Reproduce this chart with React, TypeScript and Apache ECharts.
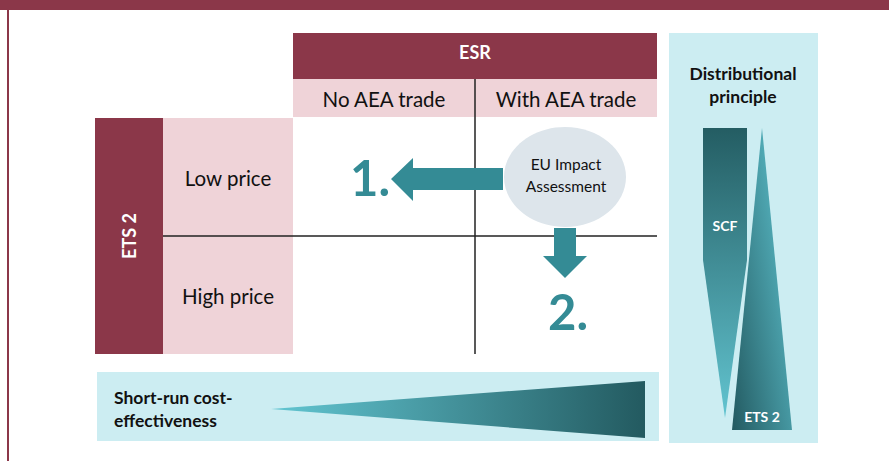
import React, { useEffect, useRef } from "react";
import * as echarts from "echarts";

// Diagram texts
const esrHeader = "ESR";
const esrColumns = ["No AEA trade", "With AEA trade"];
const etsHeader = "ETS 2";
const etsRows = ["Low price", "High price"];
const assessmentLines = ["EU Impact", "Assessment"];
const stepLabels = ["1.", "2."];
const distTitle = ["Distributional", "principle"];
const distShapes = ["SCF", "ETS 2"];
const costTitle = ["Short-run cost-", "effectiveness"];

const MAROON = "#8b3749";
const PINK = "#efd3d8";
const LIGHTBLUE = "#ccedf2";
const TEAL = "#348b95";
const FONT = "Lato, 'Open Sans', sans-serif";

export default function App() {
  const ref = useRef<HTMLDivElement>(null);
  useEffect(() => {
    if (!ref.current) return;
    const chart = echarts.init(ref.current, null, { renderer: "svg" });
    const txt = (text: string, x: number, y: number, size: number, color: string, bold = false, extra: any = {}, align = "center") => ({
      type: "text",
      x,
      y,
      ...extra,
      style: {
        text,
        fill: color,
        font: `${bold ? "bold " : ""}${size}px ${FONT}`,
        align,
        verticalAlign: "middle",
      },
    });
    const graphic: any[] = [
      // top banner and left border
      { type: "rect", shape: { x: 0, y: 0, width: 889, height: 10 }, style: { fill: MAROON } },
      { type: "rect", shape: { x: 7, y: 0, width: 2, height: 461 }, style: { fill: MAROON } },
      // ESR header
      { type: "rect", shape: { x: 293, y: 33, width: 364, height: 46 }, style: { fill: MAROON } },
      txt(esrHeader, 475, 52, 18, "#fff", true),
      { type: "rect", shape: { x: 293, y: 79, width: 364, height: 38 }, style: { fill: PINK } },
      txt(esrColumns[0], 384, 99, 20.5, "#111"),
      txt(esrColumns[1], 566, 99, 20.5, "#111"),
      // ETS 2 side
      { type: "rect", shape: { x: 95, y: 118, width: 68, height: 236 }, style: { fill: MAROON } },
      txt(etsHeader, 129, 236, 18, "#fff", true, { rotation: Math.PI / 2 }),
      { type: "rect", shape: { x: 163, y: 118, width: 130, height: 236 }, style: { fill: PINK } },
      txt(etsRows[0], 228, 178, 20.5, "#111"),
      txt(etsRows[1], 228, 296, 20.5, "#111"),
      // grid lines
      { type: "line", shape: { x1: 475, y1: 79, x2: 475, y2: 354 }, style: { stroke: "#222", lineWidth: 1.5 } },
      { type: "line", shape: { x1: 163, y1: 236, x2: 657, y2: 236 }, style: { stroke: "#222", lineWidth: 1.5 } },
      // ellipse
      { type: "ellipse", shape: { cx: 565, cy: 177, rx: 61, ry: 50 }, style: { fill: "#dde5eb" } },
      txt(assessmentLines[0], 566, 164, 15.5, "#111"),
      txt(assessmentLines[1], 566, 186, 15.5, "#111"),
      // left arrow
      {
        type: "polygon",
        shape: { points: [[503, 168], [413, 168], [413, 158], [391, 179], [413, 201], [413, 190], [503, 190]] },
        style: { fill: TEAL },
      },
      txt(stepLabels[0], 370, 177, 49, TEAL, true),
      // down arrow
      {
        type: "polygon",
        shape: { points: [[554, 228], [576, 228], [576, 256], [587, 256], [565, 278], [543, 256], [554, 256]] },
        style: { fill: TEAL },
      },
      txt(stepLabels[1], 568, 311, 49, TEAL, true),
      // right panel
      { type: "rect", shape: { x: 669, y: 33, width: 149, height: 410 }, style: { fill: LIGHTBLUE } },
      txt(distTitle[0], 743, 73, 17.5, "#111", true),
      txt(distTitle[1], 743, 96, 17.5, "#111", true),
      {
        type: "polygon",
        shape: { points: [[703, 128], [747, 128], [747, 260], [725, 418], [703, 260]] },
        style: {
          fill: {
            type: "linear", x: 0, y: 0, x2: 0, y2: 1,
            colorStops: [{ offset: 0, color: "#245d63" }, { offset: 1, color: "#62c4d0" }],
          },
        },
      },
      txt(distShapes[0], 725, 225, 14, "#fff", true),
      {
        type: "polygon",
        shape: { points: [[762, 128], [792, 430], [732, 430]] },
        style: {
          fill: {
            type: "linear", x: 0, y: 1, x2: 1, y2: 0.2,
            colorStops: [{ offset: 0, color: "#235a61" }, { offset: 1, color: "#5cbfcb" }],
          },
        },
      },
      txt(distShapes[1], 762, 416, 14, "#fff", true),
      // bottom panel
      { type: "rect", shape: { x: 97, y: 372, width: 562, height: 69 }, style: { fill: LIGHTBLUE } },
      txt(costTitle[0], 114, 397, 17.5, "#111", true, {}, "left"),
      txt(costTitle[1], 114, 420, 17.5, "#111", true, {}, "left"),
      {
        type: "polygon",
        shape: { points: [[271, 409], [645, 381], [645, 438]] },
        style: {
          fill: {
            type: "linear", x: 0, y: 0, x2: 1, y2: 0,
            colorStops: [{ offset: 0, color: "#62c6d2" }, { offset: 1, color: "#235a60" }],
          },
        },
      },
    ];
    chart.setOption({ animation: false, graphic });
    return () => chart.dispose();
  }, []);
  return (
    <div
      ref={ref}
      style={{ position: "fixed", left: 0, top: 0, width: 889, height: 461, background: "#fff" }}
    />
  );
}
